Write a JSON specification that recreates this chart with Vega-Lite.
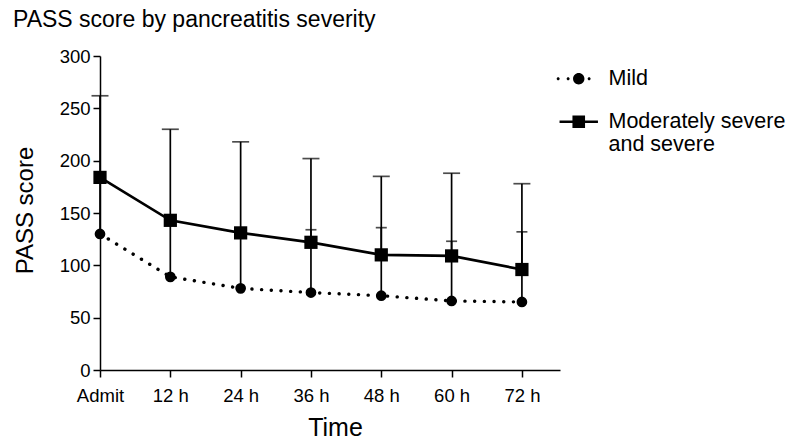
{
  "$schema": "https://vega.github.io/schema/vega-lite/v6.json",
  "autosize": {"type": "none"},
  "padding": {"left": 100, "top": 56, "right": 241, "bottom": 77},
  "width": 460,
  "height": 314,
  "background": "white",
  "config": {
    "font": "Liberation Sans",
    "view": {"stroke": null},
    "axis": {
      "grid": false,
      "domainColor": "black",
      "domainWidth": 1.5,
      "tickColor": "black",
      "tickWidth": 1.5,
      "tickSize": 7,
      "labelColor": "black",
      "labelFontSize": 18.5,
      "labelFont": "Liberation Sans",
      "titleColor": "black",
      "titleFont": "Liberation Sans",
      "titleFontWeight": "normal"
    }
  },
  "title": {
    "text": "PASS score by pancreatitis severity",
    "anchor": "start",
    "frame": "group",
    "fontSize": 23,
    "fontWeight": "normal",
    "color": "black",
    "font": "Liberation Sans",
    "dx": -87,
    "offset": 15
  },
  "data": {
    "values": [
      {"series": "Mild", "time": 0, "value": 130, "upper": 184},
      {"series": "Mild", "time": 12, "value": 89, "upper": 144},
      {"series": "Mild", "time": 24, "value": 78, "upper": 132},
      {"series": "Mild", "time": 36, "value": 74, "upper": 134},
      {"series": "Mild", "time": 48, "value": 71, "upper": 136},
      {"series": "Mild", "time": 60, "value": 66, "upper": 123},
      {"series": "Mild", "time": 72, "value": 65, "upper": 132},
      {"series": "Moderately severe and severe", "time": 0, "value": 184, "upper": 262},
      {"series": "Moderately severe and severe", "time": 12, "value": 143, "upper": 230},
      {"series": "Moderately severe and severe", "time": 24, "value": 131, "upper": 218},
      {"series": "Moderately severe and severe", "time": 36, "value": 122, "upper": 202},
      {"series": "Moderately severe and severe", "time": 48, "value": 110, "upper": 185},
      {"series": "Moderately severe and severe", "time": 60, "value": 109, "upper": 188},
      {"series": "Moderately severe and severe", "time": 72, "value": 96, "upper": 178}
    ]
  },
  "encoding": {
    "x": {
      "field": "time",
      "type": "quantitative",
      "scale": {"domain": [0, 78.5], "nice": false, "zero": false},
      "axis": {
        "values": [0, 12, 24, 36, 48, 60, 72],
        "labelExpr": "datum.value == 0 ? 'Admit' : datum.value + ' h'",
        "labelPadding": 9,
        "labelFlush": false,
        "title": "Time",
        "titleFontSize": 25,
        "titleX": 235,
        "titleY": 65,
        "titleBaseline": "alphabetic",
        "titleAlign": "center"
      }
    },
    "y": {
      "field": "value",
      "type": "quantitative",
      "scale": {"domain": [0, 300], "nice": false},
      "axis": {
        "values": [0, 50, 100, 150, 200, 250, 300],
        "labelPadding": 3,
        "title": "PASS score",
        "titleFontSize": 24,
        "titleAngle": -90,
        "titleX": -75,
        "titleY": 154,
        "titleAlign": "center",
        "titleBaseline": "middle"
      }
    }
  },
  "layer": [
    {
      "mark": {"type": "rule", "color": "black", "strokeWidth": 1.7},
      "encoding": {"y2": {"field": "upper"}}
    },
    {
      "transform": [{"filter": "datum.series == 'Moderately severe and severe'"}],
      "mark": {"type": "tick", "color": "black", "orient": "horizontal", "size": 17, "thickness": 1.7},
      "encoding": {"y": {"field": "upper", "type": "quantitative"}}
    },
    {
      "transform": [{"filter": "datum.series == 'Mild'"}],
      "mark": {"type": "tick", "color": "black", "orient": "horizontal", "size": 11, "thickness": 1.7},
      "encoding": {"y": {"field": "upper", "type": "quantitative"}}
    },
    {
      "transform": [{"filter": "datum.series == 'Mild'"}],
      "mark": {"type": "line", "color": "black", "strokeWidth": 3.4, "strokeDash": [0.1, 9.6], "strokeCap": "round"}
    },
    {
      "transform": [{"filter": "datum.series == 'Moderately severe and severe'"}],
      "mark": {"type": "line", "color": "black", "strokeWidth": 2.7}
    },
    {
      "transform": [{"filter": "datum.series == 'Mild'"}],
      "mark": {"type": "point", "shape": "circle", "filled": true, "color": "black", "size": 115, "opacity": 1}
    },
    {
      "transform": [{"filter": "datum.series == 'Moderately severe and severe'"}],
      "mark": {"type": "point", "shape": "square", "filled": true, "color": "black", "size": 175, "opacity": 1}
    },
    {
      "mark": {"type": "point", "filled": true, "color": "black", "opacity": 0},
      "encoding": {
        "shape": {
          "field": "series",
          "type": "nominal",
          "scale": {
            "domain": ["Mild", "Moderately severe and severe"],
            "range": [
              "M-0.95,0A0.95,0.95 0 1,1 0.95,0A0.95,0.95 0 1,1 -0.95,0ZM-3.68,0A0.25,0.25 0 1,1 -3.18,0A0.25,0.25 0 1,1 -3.68,0ZM-2.02,0A0.25,0.25 0 1,1 -1.52,0A0.25,0.25 0 1,1 -2.02,0ZM1.48,0A0.25,0.25 0 1,1 1.98,0A0.25,0.25 0 1,1 1.48,0Z",
              "M-3.2,-0.22H3.2V0.22H-3.2ZM-1.05,-1.05H1.05V1.05H-1.05Z"
            ]
          },
          "legend": {
            "title": null,
            "orient": "none",
            "legendX": 468,
            "legendY": 12,
            "symbolSize": 144,
            "symbolOpacity": 1,
            "symbolStrokeWidth": 0,
            "labelFontSize": 21.5,
            "labelFont": "Liberation Sans",
            "labelColor": "black",
            "labelOffset": 19,
            "labelLimit": 400,
            "rowPadding": 20,
            "labelBaseline": "middle",
            "labelExpr": "datum.label == 'Moderately severe and severe' ? ['Moderately severe', 'and severe'] : datum.label",
            "encode": {"labels": {"update": {"lineHeight": {"value": 25}}}}
          }
        }
      }
    }
  ]
}
